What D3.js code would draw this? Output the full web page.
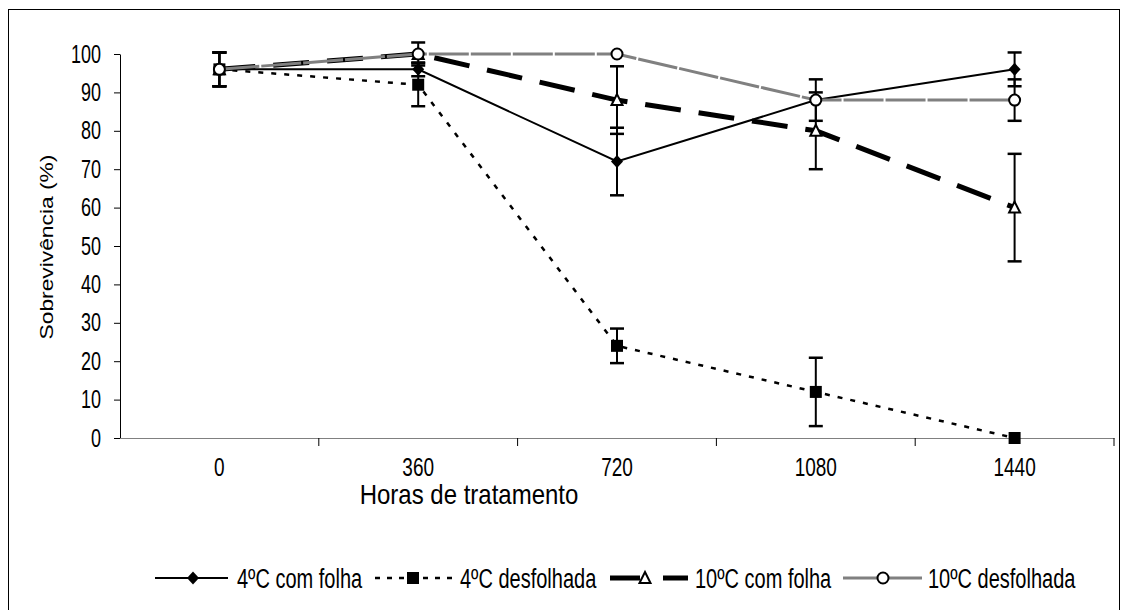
<!DOCTYPE html>
<html><head><meta charset="utf-8">
<script src="https://cdn.jsdelivr.net/npm/d3@7"></script>
<style>
html,body{margin:0;padding:0;background:#fff;}
svg{display:block;font-family:"Liberation Sans",Arial,sans-serif;}
</style></head>
<body>
<svg id="chart" width="1127" height="610"></svg>
<script>
const hours = ["0","360","720","1080","1440"];
const yTicks = [0,10,20,30,40,50,60,70,80,90,100];
const seriesNames = ["4ºC com folha","4ºC desfolhada","10ºC com folha","10ºC desfolhada"];
const v4Com   = [96, 96, 72, 88, 96];
const e4Com   = [4.4, 1.8, 8.8, 5.4, 4.4];
const v4Desf  = [96, 92, 24, 12, 0];
const e4Desf  = [4.4, 5.6, 4.5, 8.9, 0];
const v10Com  = [96, 100, 88, 80, 60];
const e10Com  = [4.4, 3, 8.8, 10, 14];
const v10Desf = [96, 100, 100, 88, 88];
const e10Desf = [4.4, 0, 0, 0, 5.4];

const SY = 1.4;
const svg = d3.select("#chart");
// outer frame
svg.append("rect").attr("x",8.5).attr("y",9.5).attr("width",1111).attr("height",620)
  .attr("fill","none").attr("stroke","#000").attr("stroke-width",1);

const L = 120, R = 1114, T = 54, B = 438;
const x = d3.scaleBand().domain(hours).range([L,R]);
const y = d3.scaleLinear().domain([0,100]).range([B,T]);

// y axis
const gy = svg.append("g").attr("transform",`translate(${L},0)`)
  .call(d3.axisLeft(y).tickValues(yTicks).tickSize(6).tickSizeOuter(0).tickPadding(13));
gy.select(".domain").attr("stroke","#000").attr("stroke-width",1);
gy.selectAll(".tick line").attr("stroke","#000");
gy.selectAll(".tick text").each(function(){
  const t = d3.select(this);
  const xx = +t.attr("x");
  t.attr("x",0).attr("transform",`translate(${xx},0) scale(1,${SY})`);
}).attr("font-size",18).attr("fill","#000").attr("font-family","Liberation Sans, Arial, sans-serif");

// x axis labels
const gx = svg.append("g").attr("transform",`translate(0,${B})`)
  .call(d3.axisBottom(x).tickSize(0).tickPadding(19).tickSizeOuter(0));
gx.select(".domain").attr("stroke","#808080").attr("stroke-width",1);
gx.selectAll(".tick text").each(function(){
  const t = d3.select(this);
  const yy = +t.attr("y");
  t.attr("y",0).attr("transform",`translate(0,${yy}) scale(1,${SY})`);
}).attr("font-size",19).attr("fill","#000").attr("font-family","Liberation Sans, Arial, sans-serif");
// boundary ticks
svg.append("g").selectAll("line").data(hours).join("line")
  .attr("x1",d=>x(d)+x.step()).attr("x2",d=>x(d)+x.step())
  .attr("y1",B).attr("y2",B+8).attr("stroke","#000").attr("stroke-width",1);

// axis titles
svg.append("text").attr("transform",`translate(469,494) scale(1,1.15)`)
  .attr("text-anchor","middle").attr("dominant-baseline","central")
  .attr("font-size",24).text("Horas de tratamento");
svg.append("text").attr("transform",`translate(46,247) scale(1,1.2) rotate(-90)`)
  .attr("text-anchor","middle").attr("dominant-baseline","central")
  .attr("font-size",19).text("Sobrevivência (%)");

const cx = d => x(d) + x.bandwidth()/2;

const styles = [
  {vals:v4Com, errs:e4Com, stroke:"#000", width:2, dash:null, marker:"diamond"},
  {vals:v4Desf, errs:e4Desf, stroke:"#000", width:2.5, dash:"5,8", marker:"square"},
  {vals:v10Com, errs:e10Com, stroke:"#000", width:5, dash:"36,18", marker:"triangle"},
  {vals:v10Desf, errs:e10Desf, stroke:"#808080", width:3, dash:"40,2", marker:"circle"}
];

function drawMarker(g, type, px, py){
  if(type==="diamond"){
    g.append("path").attr("d",`M${px},${py-6.5}L${px+6},${py}L${px},${py+6.5}L${px-6},${py}Z`).attr("fill","#000");
  } else if(type==="square"){
    g.append("rect").attr("x",px-6).attr("y",py-6).attr("width",12).attr("height",12).attr("fill","#000");
  } else if(type==="triangle"){
    g.append("path").attr("d",`M${px},${py-6}L${px+5.5},${py+5}L${px-5.5},${py+5}Z`).attr("fill","#fff").attr("stroke","#000").attr("stroke-width",2);
  } else {
    g.append("circle").attr("cx",px).attr("cy",py).attr("r",5.5).attr("fill","#fff").attr("stroke","#000").attr("stroke-width",2);
  }
}

const line = d3.line().x((d,i)=>cx(hours[i])).y(d=>y(d));
styles.forEach(s=>{
  const g = svg.append("g");
  const p = g.append("path").attr("d",line(s.vals)).attr("fill","none")
    .attr("stroke",s.stroke).attr("stroke-width",s.width);
  if(s.dash) p.attr("stroke-dasharray",s.dash);
  s.vals.forEach((v,i)=>{
    const e = s.errs[i]; if(!e) return;
    const px = cx(hours[i]);
    const eg = g.append("g").attr("stroke","#000").attr("stroke-width",2);
    eg.append("line").attr("x1",px).attr("x2",px).attr("y1",y(v-e)).attr("y2",y(v+e));
    [v-e, v+e].forEach(w=>{
      eg.append("line").attr("x1",px-7).attr("x2",px+7).attr("y1",y(w)).attr("y2",y(w)).attr("stroke-width",2.5);
    });
  });
  s.vals.forEach((v,i)=>drawMarker(g, s.marker, cx(hours[i]), y(v)));
});

// legend
const LY = 578;
const legendItems = [
  {name:seriesNames[0], x1:155, x2:228, mx:193, tx:237, s:styles[0]},
  {name:seriesNames[1], x1:375, x2:457, mx:413, tx:460, s:styles[1]},
  {name:seriesNames[2], x1:610, x2:688, mx:645, tx:695, s:styles[2]},
  {name:seriesNames[3], x1:843, x2:922, mx:883, tx:928, s:styles[3]}
];
const lg = svg.append("g");
legendItems.forEach((it,k)=>{
  const ln = lg.append("line").attr("x1",it.x1).attr("x2",it.x2).attr("y1",LY).attr("y2",LY)
    .attr("stroke",it.s.stroke).attr("stroke-width",it.s.width);
  if(k===1) ln.attr("stroke-dasharray","5,7");
  if(k===2) ln.attr("stroke-dasharray","30,23");
  if(k===3) ln.attr("stroke-dasharray","40,2");
  drawMarker(lg, it.s.marker, it.mx, LY);
  lg.append("text").attr("transform",`translate(${it.tx},${LY}) scale(1,${SY})`)
    .attr("dominant-baseline","central").attr("font-size",20).text(it.name);
});
</script>
</body></html>
